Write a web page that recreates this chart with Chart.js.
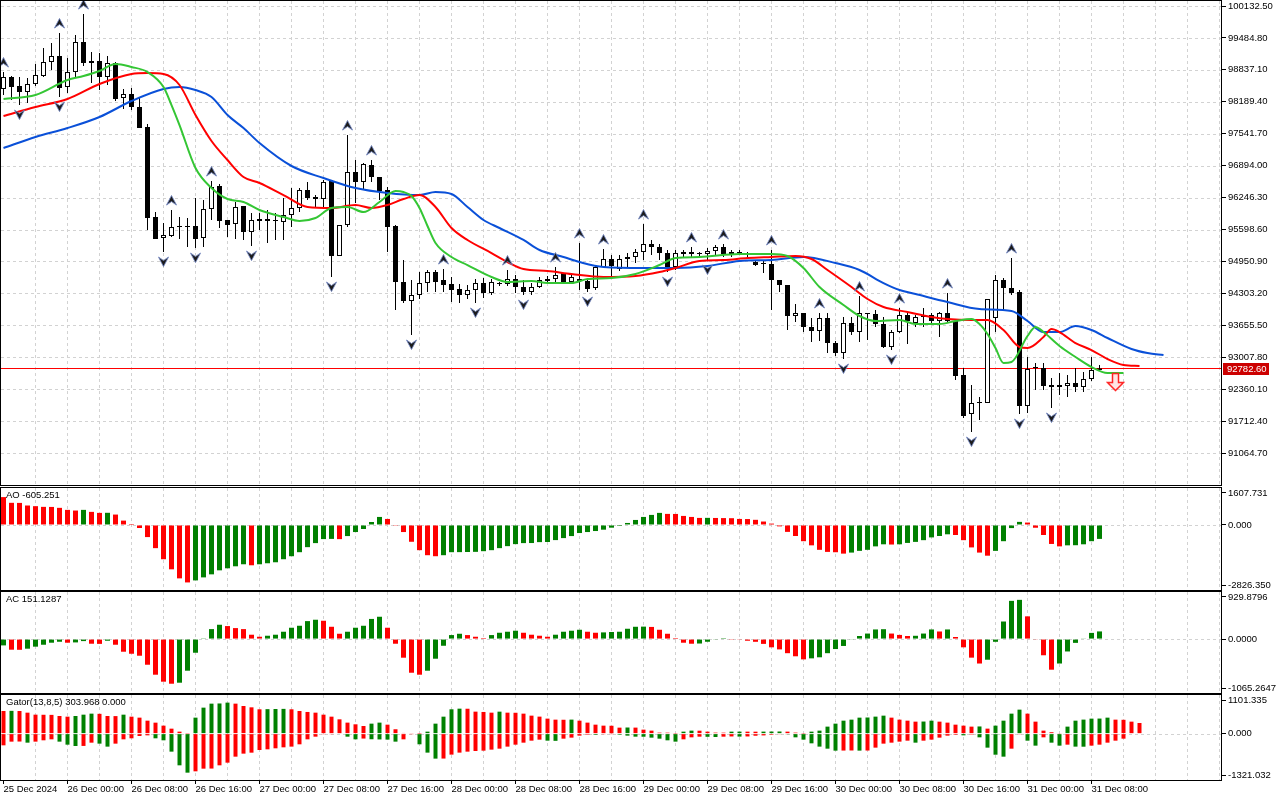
<!DOCTYPE html>
<html lang="en">
<head>
<meta charset="UTF-8">
<title>BTCUSD H1 - Alligator, AO, AC, Gator</title>
<script src="https://cdn.jsdelivr.net/npm/chart.js@4.4.1/dist/chart.umd.min.js"></script>
<style>
  html, body { margin: 0; padding: 0; background: #fff; }
  #wrap { position: relative; width: 1280px; height: 800px; overflow: hidden; background: #fff; }
  canvas { position: absolute; left: 0; }
</style>
</head>
<body>
<div id="wrap">
  <canvas id="main" width="1280" height="486" style="top:0px"></canvas>
  <canvas id="ao" width="1280" height="104" style="top:487px"></canvas>
  <canvas id="ac" width="1280" height="103" style="top:591px"></canvas>
  <canvas id="gator" width="1280" height="106" style="top:694px"></canvas>
</div>
<script>
// ---- data (H1 bars, bar 0 = 25 Dec 2024 16:00) ----
const timeLabels = ['25 Dec 2024', '26 Dec 00:00', '26 Dec 08:00', '26 Dec 16:00', '27 Dec 00:00', '27 Dec 08:00',
  '27 Dec 16:00', '28 Dec 00:00', '28 Dec 08:00', '28 Dec 16:00', '29 Dec 00:00', '29 Dec 08:00',
  '29 Dec 16:00', '30 Dec 00:00', '30 Dec 08:00', '30 Dec 16:00', '31 Dec 00:00', '31 Dec 08:00'];

const opens = [
  98449, 98692, 98509, 98388, 98550, 98712, 98996, 99118, 98489, 98793,
  99402, 99017, 99017, 98692, 98976, 98266, 98347, 98083, 97678, 95852,
  95426, 95467, 95649, 95649, 95670, 95426, 96014, 96481, 95791, 95710,
  96075, 95548, 95812, 95812, 95771, 95751, 95893, 96035, 96400, 96258,
  96217, 96582, 95061, 95690, 96765, 96562, 96907, 96664, 96400, 95670,
  94534, 94148, 94270, 94513, 94736, 94574, 94493, 94392, 94270, 94371,
  94513, 94310, 94513, 94493, 94594, 94432, 94331, 94432, 94554, 94594,
  94716, 94534, 94594, 94554, 94412, 94838, 95000, 94797, 95000, 95041,
  95142, 95304, 95244, 95122, 94838, 95142, 95142, 95102, 95102, 95162,
  95244, 95102, 95142, 95122, 94939, 94919, 94899, 94574, 94473, 93844,
  93905, 93621, 93540, 93803, 93296, 93093, 93702, 93519, 93905, 93884,
  93682, 93215, 93519, 93864, 93702, 93824, 93864, 93742, 93905, 93742,
  92647, 91856, 92079, 92079, 93803, 94574, 94412, 94331, 92018, 92789,
  92789, 92444, 92404, 92424, 92485, 92404, 92566, 92749];
const highs = [
  98793, 98712, 98692, 98672, 98956, 99280, 99382, 99585, 99077, 99544,
  99970, 99199, 99179, 99118, 98996, 98449, 98469, 98286, 97739, 95954,
  95730, 95994, 95852, 95832, 96238, 96197, 96582, 96522, 95791, 96156,
  96075, 95933, 95933, 95994, 95933, 96238, 96440, 96440, 96562, 96298,
  96603, 96582, 95690, 97515, 97008, 96947, 97008, 96664, 96461, 95690,
  94980, 94574, 94736, 94777, 94777, 94797, 94635, 94493, 94473, 94594,
  94615, 94594, 94534, 94777, 94676, 94574, 94513, 94635, 94655, 94838,
  94716, 94676, 95325, 94615, 94858, 95203, 95081, 95081, 95122, 95203,
  95710, 95386, 95304, 95183, 95183, 95183, 95244, 95142, 95223, 95284,
  95304, 95183, 95183, 95142, 94980, 94980, 95183, 94574, 94473, 94087,
  93905, 93803, 93905, 93905, 93337, 93824, 93824, 94250, 93905, 93966,
  93824, 93560, 94006, 93905, 93864, 94006, 93905, 93925, 94310, 93763,
  92789, 92444, 92201, 94189, 94676, 94615, 95020, 94371, 93012, 92891,
  92891, 92586, 92688, 92647, 92789, 92708, 93012, 92850];
const lows = [
  98327, 98225, 98124, 98165, 98509, 98692, 98834, 98286, 98367, 98692,
  98915, 98570, 98428, 98530, 98205, 98043, 98023, 97657, 95588, 95406,
  95142, 95446, 95406, 95244, 95223, 95244, 95791, 95629, 95446, 95406,
  95386, 95264, 95588, 95325, 95386, 95386, 95649, 95954, 96197, 96035,
  96055, 94635, 95061, 95649, 96136, 96400, 96562, 96197, 95142, 93966,
  94108, 93459, 94189, 94331, 94331, 94331, 94128, 94108, 94189, 94108,
  94209, 94270, 94452, 94452, 94310, 94270, 94270, 94412, 94513, 94534,
  94513, 94513, 94371, 94331, 94371, 94818, 94655, 94757, 94838, 94919,
  94980, 95081, 94980, 94736, 94777, 95041, 95041, 95041, 94980, 95081,
  95041, 95041, 95081, 95020, 94858, 94716, 93966, 94331, 93560, 93722,
  93519, 93317, 93337, 93093, 93033, 92972, 93459, 93317, 93357, 93621,
  93195, 93154, 93499, 93276, 93621, 93621, 93702, 93418, 93702, 92546,
  91775, 91491, 91734, 92079, 93519, 93966, 94270, 91856, 91876, 92343,
  92343, 91978, 92241, 92201, 92302, 92302, 92525, 92728];
const closes = [
  98692, 98489, 98388, 98550, 98733, 98996, 99118, 98469, 98793, 99402,
  98976, 98976, 98692, 98976, 98246, 98347, 98083, 97657, 95832, 95406,
  95487, 95649, 95649, 95649, 95406, 96014, 96461, 95771, 95690, 96055,
  95548, 95791, 95771, 95771, 95771, 95893, 96035, 96400, 96238, 96217,
  96562, 95061, 95690, 96765, 96562, 96927, 96664, 96380, 95649, 94534,
  94148, 94270, 94513, 94736, 94534, 94473, 94371, 94270, 94371, 94513,
  94310, 94534, 94493, 94594, 94432, 94331, 94432, 94574, 94594, 94676,
  94534, 94635, 94554, 94392, 94838, 95000, 94858, 95000, 95041, 95142,
  95304, 95244, 95122, 94818, 95122, 95102, 95102, 95102, 95162, 95244,
  95102, 95142, 95122, 95081, 94878, 94899, 94574, 94473, 93844, 93905,
  93621, 93540, 93803, 93296, 93093, 93702, 93519, 93905, 93884, 93682,
  93215, 93519, 93864, 93742, 93824, 93864, 93742, 93905, 93742, 92627,
  91815, 92079, 92079, 94189, 94574, 94412, 94310, 92018, 92769, 92789,
  92424, 92404, 92444, 92485, 92404, 92566, 92749, 92782.60];

// Alligator lines (already shifted forward: jaw 8, teeth 5, lips 3 bars)
const jawBars = [0, 4, 8, 12, 16, 20, 22, 24, 26, 28, 30, 32, 36, 40, 44, 48, 52, 54, 56, 58,
  60, 62, 65, 67, 70, 72, 75, 80, 84, 88, 92, 96, 100, 104, 107, 110, 112, 114, 118, 122,
  126, 128, 130, 132, 134, 136, 138, 141, 143, 145];
const jawPrices = [97252, 97475, 97657, 97881, 98205, 98449, 98489, 98428, 98286, 97921,
  97657, 97353, 96887, 96643, 96440, 96339, 96298, 96359, 96319, 96055,
  95791, 95629, 95386, 95183, 95041, 94939, 94838, 94818, 94818, 94858,
  94960, 94980, 95041, 94919, 94777, 94513, 94371, 94290, 94128, 93986,
  93945, 93742, 93519, 93519, 93641, 93560, 93398, 93175, 93093, 93053];
const teethBars = [0, 4, 8, 12, 16, 18, 20, 22, 24, 26, 28, 30, 32, 35, 38, 41, 44, 46, 48, 50,
  52, 54, 56, 58, 61, 63, 65, 68, 71, 75, 79, 82, 84, 87, 90, 93, 96, 99, 101, 103,
  106, 108, 110, 113, 116, 118, 121, 123, 125, 127, 128, 130, 131, 132, 134, 136, 138, 140, 142];
const teethPrices = [97901, 98083, 98246, 98550, 98753, 98773, 98753, 98530, 97921, 97394,
  97008, 96664, 96542, 96298, 96055, 96035, 96096, 96035, 96096, 96217,
  96298, 96055, 95629, 95386, 95122, 94939, 94797, 94757, 94696, 94635,
  94655, 94736, 94818, 94960, 94980, 95020, 95041, 95061, 95000, 94777,
  94432, 94189, 94026, 93925, 93824, 93783, 93763, 93763, 93560, 93215,
  93195, 93418, 93580, 93519, 93296, 93154, 92972, 92850, 92830];
const lipsBars = [0, 4, 8, 10, 12, 14, 16, 18, 20, 21, 22, 24, 26, 28, 30, 32, 35, 37, 39, 41,
  43, 45, 47, 49, 50, 51, 52, 53, 54, 56, 58, 61, 63, 66, 68, 71, 73, 76, 79, 82,
  84, 87, 92, 96, 98, 100, 102, 105, 107, 109, 112, 114, 117, 119, 121, 122, 123, 124, 125, 126,
  128, 129, 130, 132, 134, 136, 138, 140];
const lipsPrices = [98246, 98327, 98631, 98712, 98814, 98956, 98895, 98793, 98489, 98124,
  97718, 96846, 96440, 96217, 96156, 95994, 95852, 95771, 95832, 96035,
  96055, 95954, 96156, 96380, 96359, 96278, 96035, 95670, 95325, 95041,
  94878, 94635, 94534, 94554, 94513, 94513, 94594, 94615, 94696, 94878,
  95020, 95041, 95102, 95102, 95061, 94818, 94432, 94067, 93844, 93742,
  93763, 93682, 93682, 93742, 93783, 93682, 93479, 93195, 92891, 92911,
  93438, 93621, 93519, 93235, 93012, 92809, 92688, 92688];

const upFractalBars = [0, 7, 10, 21, 26, 43, 46, 55, 63, 69, 72, 75, 80, 86, 90, 96, 102, 107, 112, 118, 126];
const downFractalBars = [2, 7, 20, 24, 31, 41, 51, 59, 65, 73, 83, 88, 105, 111, 121, 127, 131];
const signalBar = 139;
const signalPrice = 92505;

const aoValues = [
  1212, 964, 960, 847, 818, 788, 785, 745, 657, 628,
  657, 570, 526, 530, 453, 190, 44, -131, -526, -1007,
  -1489, -1927, -2321, -2497, -2409, -2278, -2146, -1971, -1883, -1796,
  -1708, -1752, -1708, -1664, -1621, -1489, -1358, -1183, -964, -788,
  -613, -605, -615, -482, -307, -175, 131, 350, 263, -10,
  -307, -730, -1095, -1314, -1358, -1314, -1183, -1180, -1175, -1168,
  -1139, -1095, -1007, -920, -832, -788, -785, -745, -740, -657,
  -570, -482, -350, -307, -263, -204, -117, -44, 88, 219,
  350, 438, 526, 482, 480, 394, 350, 307, 310, 305,
  300, 295, 263, 258, 225, 150, 60, -60, -300, -480,
  -705, -885, -1080, -1170, -1185, -1245, -1200, -1125, -1080, -930,
  -840, -850, -840, -780, -735, -660, -540, -480, -405, -435,
  -660, -975, -1200, -1335, -1125, -705, -135, 135, 105, -120,
  -435, -825, -930, -885, -880, -840, -705, -605.251];
const acValues = [
  -125, -210, -212, -190, -150, -112, -72, -53, -72, -66,
  -40, -92, -95, -33, -112, -250, -290, -329, -507, -704,
  -842, -882, -862, -625, -270, 5, 197, 283, 257, 217,
  197, 86, 46, 66, 86, 145, 224, 263, 355, 382,
  362, 243, 105, 145, 224, 263, 398, 441, 224, -92,
  -368, -665, -704, -625, -388, -132, 79, 105, 79, 46,
  20, 79, 125, 145, 165, 125, 86, 66, 46, 86,
  145, 165, 184, 145, 125, 132, 140, 145, 204, 243,
  246, 240, 184, 105, 20, -72, -92, -88, -53, -7,
  2, -5, -13, -33, -54, -95, -163, -204, -279, -340,
  -401, -381, -360, -279, -197, -136, -7, 61, 109, 190,
  195, 109, 82, 61, 65, 109, 190, 150, 190, 41,
  -163, -367, -483, -408, -54, 347, 755, 775, 449, -7,
  -320, -605, -483, -245, -75, 7, 122, 151.1287];
// Gator: upper = |jaw - teeth| (shift 5), lower = -|teeth - lips| (shift 3)
const gatorUpper = [
  646, 650, 646, 598, 541, 538, 535, 503, 484, 503,
  541, 570, 565, 503, 500, 541, 484, 456, 370, 313,
  228, 142, 57, 5, 456, 741, 855, 860, 884, 855,
  788, 750, 694, 698, 702, 706, 694, 646, 618, 598,
  541, 484, 408, 314, 266, 218, 285, 314, 256, 125,
  20, 10, 2, 57, 285, 484, 694, 712, 710, 627,
  618, 598, 627, 598, 595, 570, 513, 485, 428, 399,
  396, 400, 370, 314, 256, 228, 225, 171, 175, 172,
  114, 86, 29, 28, 5, 57, 86, 84, 57, 29,
  28, 57, 58, 57, 56, 58, 60, 61, 57, 29,
  5, 57, 86, 200, 285, 370, 399, 456, 460, 485,
  513, 456, 399, 370, 342, 345, 370, 342, 314, 256,
  228, 200, 205, 143, 228, 370, 570, 684, 570, 342,
  86, 40, 10, 200, 370, 400, 428, 430, 456, 399,
  395, 342, 303.968];
const gatorLower = [
  -333, -228, -225, -257, -228, -190, -162, -228, -314, -352,
  -350, -257, -285, -370, -285, -162, -133, -67, -48, -133,
  -190, -513, -903, -1112, -1074, -998, -995, -903, -827, -656,
  -570, -542, -466, -447, -418, -390, -370, -304, -162, -86,
  -19, -10, -15, -86, -162, -140, -160, -165, -170, -228,
  -162, -19, -304, -541, -712, -710, -598, -541, -513, -494,
  -485, -456, -428, -370, -314, -257, -200, -171, -200, -205,
  -143, -114, -57, -29, -32, -19, -5, -29, -57, -86,
  -88, -114, -143, -190, -228, -162, -105, -86, -90, -95,
  -86, -80, -84, -80, -60, -50, -30, -10, -19, -105,
  -171, -276, -370, -428, -485, -482, -480, -484, -481, -399,
  -285, -257, -228, -200, -257, -200, -171, -114, -57, -30,
  -48, -25, -105, -399, -600, -656, -428, -20, -200, -342,
  -105, -257, -342, -314, -370, -372, -342, -314, -257, -200,
  -143];

const priceTicks = [91064.70, 91712.40, 92360.10, 93007.80, 93655.50, 94303.20, 94950.90, 95598.60,
  96246.30, 96894.00, 97541.70, 98189.40, 98837.10, 99484.80, 100132.50];
const priceLimits = [90416, 100234];
const aoLimits = [-2826.350, 1607.731];
const acLimits = [-1065.2647, 929.8796];
const gatorLimits = [-1321.032, 1101.335];

// ---- drawing ----
Chart.defaults.font.family = "'Liberation Sans', Arial, sans-serif";
Chart.defaults.font.size = 9.5;
Chart.defaults.color = '#000';

const GREEN = '#008000';
const RED = '#ff0000';
const X_MIN = -0.3125, X_MAX = 152.1875;   // 8 px per bar
const bars = opens.map((_, k) => k);
const lastPrice = closes[closes.length - 1];

function risingColors(vals, first) {
  return vals.map((v, i) => i === 0 ? first : (v > vals[i - 1] ? GREEN : RED));
}
function growingColors(vals, first) {
  return vals.map((v, i) => i === 0 ? first : (Math.abs(v) >= Math.abs(vals[i - 1]) ? GREEN : RED));
}
function pts(xs, ys) {
  return xs.map((k, i) => ({ x: k, y: ys[i] }));
}

function arrowImage(dir) {
  const c = document.createElement('canvas');
  c.width = 11; c.height = 30;
  const g = c.getContext('2d');
  if (dir === 'down') { g.translate(0, 30); g.scale(1, -1); }
  g.beginPath();
  g.moveTo(5.5, 0.5); g.lineTo(10.5, 10); g.lineTo(5.5, 6.5); g.lineTo(0.5, 10); g.closePath();
  g.fillStyle = '#1b1b1b'; g.fill();
  g.strokeStyle = 'rgba(110,130,190,0.85)'; g.lineWidth = 1; g.stroke();
  return c;
}
function signalImage() {
  const c = document.createElement('canvas');
  c.width = 19; c.height = 20;
  const g = c.getContext('2d');
  g.beginPath();
  g.moveTo(6.5, 1.5); g.lineTo(12.5, 1.5); g.lineTo(12.5, 10.5); g.lineTo(17.5, 10.5);
  g.lineTo(9.5, 18.5); g.lineTo(1.5, 10.5); g.lineTo(6.5, 10.5); g.closePath();
  g.fillStyle = '#ffe4e4'; g.fill();
  g.strokeStyle = '#ff2020'; g.lineWidth = 1.5; g.stroke();
  return c;
}

// grid, frame, price line and panel caption in the MT5 look
const mtPanel = {
  id: 'mtPanel',
  beforeDatasetsDraw(chart, args, o) {
    const { ctx, chartArea: a, scales: { x, y } } = chart;
    ctx.save();
    ctx.strokeStyle = '#d2d2d2';
    ctx.lineWidth = 1;
    ctx.setLineDash([3, 3]);
    ctx.beginPath();
    for (let k = 4; k <= X_MAX; k += 4) {
      const px = Math.floor(x.getPixelForValue(k)) + 0.5;
      ctx.moveTo(px, a.top); ctx.lineTo(px, a.bottom);
    }
    (o.levels || []).forEach(v => {
      const py = Math.round(y.getPixelForValue(v)) + 0.5;
      ctx.moveTo(a.left, py); ctx.lineTo(a.right, py);
    });
    ctx.stroke();
    ctx.setLineDash([]);
    if (o.priceLine !== undefined) {
      const py = Math.round(y.getPixelForValue(o.priceLine)) + 0.5;
      ctx.strokeStyle = '#ff0000';
      ctx.beginPath(); ctx.moveTo(a.left, py); ctx.lineTo(a.right, py); ctx.stroke();
    }
    ctx.restore();
  },
  afterDraw(chart, args, o) {
    const { ctx, chartArea: a, scales: { y } } = chart;
    ctx.save();
    ctx.strokeStyle = '#000';
    ctx.lineWidth = 1;
    ctx.strokeRect(a.left - 0.5, a.top - 0.5, a.right - a.left + 1, a.bottom - a.top + 1);
    ctx.font = "9.5px 'Liberation Sans', Arial, sans-serif";
    if (o.title) {
      ctx.fillStyle = '#000';
      ctx.textBaseline = 'top';
      ctx.fillText(o.title, a.left + 5, a.top + 3);
    }
    if (o.priceLine !== undefined) {
      const py = Math.round(y.getPixelForValue(o.priceLine));
      ctx.fillStyle = '#cc0000';
      ctx.fillRect(a.right + 2, py - 5, 46, 12);
      ctx.fillStyle = '#fff';
      ctx.textBaseline = 'middle';
      ctx.fillText(o.priceLine.toFixed(2), a.right + 6, py + 1);
    }
    ctx.restore();
  }
};

function xAxis(showLabels) {
  return {
    type: 'linear', min: X_MIN, max: X_MAX, offset: false, display: showLabels,
    afterBuildTicks: ax => { ax.ticks = timeLabels.map((t, i) => ({ value: i * 8 })); },
    afterFit: ax => { ax.height = showLabels ? 20 : 0; ax.paddingLeft = 0; ax.paddingRight = 0; },
    ticks: { autoSkip: false, maxRotation: 0, minRotation: 0, align: 'start', padding: 0,
             color: '#000', callback: (v, i) => timeLabels[i] },
    grid: { drawOnChartArea: false, drawTicks: true, tickLength: 4, tickColor: '#000', offset: false },
    border: { display: false }
  };
}
function yAxis(limits, tickValues, labelFor) {
  return {
    position: 'right', min: limits[0], max: limits[1],
    afterBuildTicks: ax => { ax.ticks = tickValues.map(v => ({ value: v })); },
    afterFit: ax => { ax.width = 59; ax.paddingTop = 0; ax.paddingBottom = 0; },
    ticks: { autoSkip: false, padding: 2, color: '#000', callback: (v, i) => labelFor(v, i) },
    grid: { drawOnChartArea: false, drawTicks: true, tickLength: 5, tickColor: '#000' },
    border: { display: false }
  };
}
// MT5 prints the subwindow max/min a few pixels inside the frame
function edgeTicks(limits, plotHeight) {
  const inset = 5 * (limits[1] - limits[0]) / plotHeight;
  return [limits[1] - inset, 0, limits[0] + inset];
}
function edgeLabel(limits, digits) {
  const labels = [limits[1].toFixed(digits), (0).toFixed(digits), limits[0].toFixed(digits)];
  return (v, i) => labels[i];
}
function baseOptions(padBottom, panel, xs, ys) {
  return {
    responsive: false, animation: false, events: [],
    layout: { autoPadding: false, padding: { left: 1, top: 1, right: 0, bottom: padBottom } },
    plugins: { legend: { display: false }, tooltip: { enabled: false }, mtPanel: panel },
    scales: { x: xs, y: ys }
  };
}
function histogram(vals, colors, width) {
  return { type: 'bar', data: vals.map((v, k) => ({ x: k, y: v })), backgroundColor: colors,
           borderWidth: 0, barThickness: width, grouped: false, inflateAmount: 0 };
}

// main price window
new Chart(document.getElementById('main'), {
  type: 'bar',
  data: {
    datasets: [
      { type: 'line', data: pts(lipsBars, lipsPrices), borderColor: '#34c634', borderWidth: 2,
        pointRadius: 0, cubicInterpolationMode: 'monotone', order: 0 },
      { type: 'line', data: pts(teethBars, teethPrices), borderColor: '#ff0000', borderWidth: 2,
        pointRadius: 0, cubicInterpolationMode: 'monotone', order: 0.1 },
      { type: 'line', data: pts(jawBars, jawPrices), borderColor: '#0a50d8', borderWidth: 2,
        pointRadius: 0, cubicInterpolationMode: 'monotone', order: 0.2 },
      { type: 'line', data: upFractalBars.map(k => ({ x: k, y: highs[k] })), showLine: false,
        pointStyle: arrowImage('up'), pointRadius: 3, clip: false, order: -1 },
      { type: 'line', data: downFractalBars.map(k => ({ x: k, y: lows[k] })), showLine: false,
        pointStyle: arrowImage('down'), pointRadius: 3, clip: false, order: -1 },
      { type: 'line', data: [{ x: signalBar, y: signalPrice }], showLine: false,
        pointStyle: signalImage(), pointRadius: 3, clip: false, order: -2 },
      { type: 'bar', data: bars.map(k => ({ x: k, y: [opens[k], closes[k]] })),
        backgroundColor: bars.map(k => closes[k] > opens[k] ? '#ffffff' : '#000000'),
        borderColor: '#000', borderWidth: 1, borderSkipped: false, minBarLength: 1,
        barThickness: 5, grouped: false, inflateAmount: 0, order: 2 },
      { type: 'bar', data: bars.map(k => ({ x: k, y: [lows[k], highs[k]] })),
        backgroundColor: '#000', borderWidth: 0, barThickness: 1, grouped: false,
        inflateAmount: 0, order: 3 }
    ]
  },
  options: baseOptions(1, { levels: priceTicks, priceLine: lastPrice },
    xAxis(false), yAxis(priceLimits, priceTicks, v => v.toFixed(2))),
  plugins: [mtPanel]
});

// Awesome Oscillator
new Chart(document.getElementById('ao'), {
  type: 'bar',
  data: { datasets: [histogram(aoValues, risingColors(aoValues, RED), 5)] },
  options: baseOptions(1, { levels: [0], title: 'AO ' + aoValues[aoValues.length - 1].toFixed(3) },
    xAxis(false), yAxis(aoLimits, edgeTicks(aoLimits, 102), edgeLabel(aoLimits, 3))),
  plugins: [mtPanel]
});

// Accelerator Oscillator
new Chart(document.getElementById('ac'), {
  type: 'bar',
  data: { datasets: [histogram(acValues, risingColors(acValues, GREEN), 5)] },
  options: baseOptions(1, { levels: [0], title: 'AC ' + acValues[acValues.length - 1].toFixed(4) },
    xAxis(false), yAxis(acLimits, edgeTicks(acLimits, 101), edgeLabel(acLimits, 4))),
  plugins: [mtPanel]
});

// Gator Oscillator
new Chart(document.getElementById('gator'), {
  type: 'bar',
  data: { datasets: [
    histogram(gatorUpper, growingColors(gatorUpper, RED), 4),
    histogram(gatorLower, growingColors(gatorLower, RED), 4)
  ] },
  options: baseOptions(0, { levels: [0],
      title: 'Gator(13,8,5) ' + gatorUpper[gatorUpper.length - 1].toFixed(3) + ' 0.000' },
    xAxis(true), yAxis(gatorLimits, edgeTicks(gatorLimits, 85), edgeLabel(gatorLimits, 3))),
  plugins: [mtPanel]
});
</script>
</body>
</html>
